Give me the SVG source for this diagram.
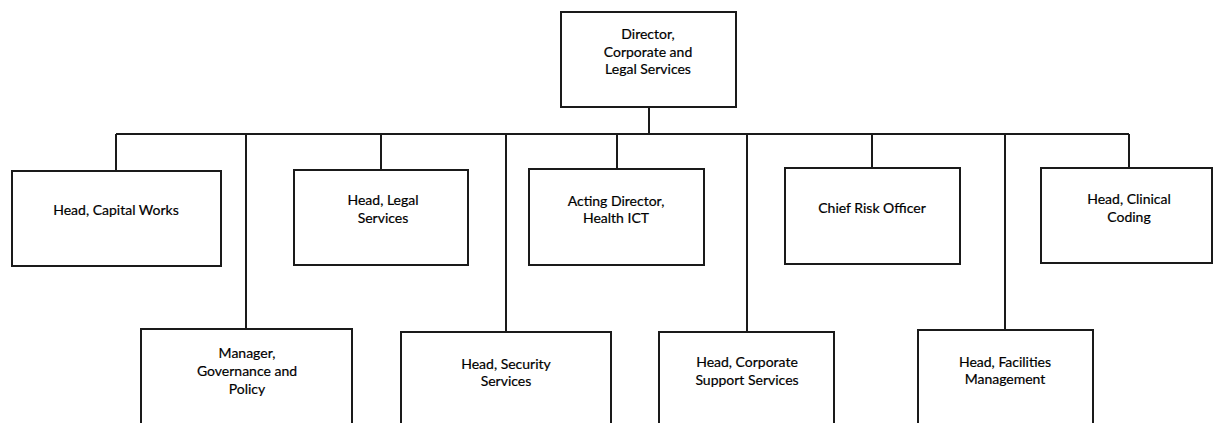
<svg xmlns="http://www.w3.org/2000/svg" width="1214" height="423" viewBox="0 0 1214 423">
  <style>
    .box { fill: #ffffff; stroke: #1a1a1a; stroke-width: 2; }
    .conn { fill: none; stroke: #1a1a1a; stroke-width: 2; }
    .lbl { font-family: Lato, "Liberation Sans", sans-serif; font-size: 14px; fill: #000000; stroke: #000000; stroke-width: 0.2; text-anchor: middle; }
  </style>
  <rect x="0" y="0" width="1214" height="423" fill="#ffffff"/>
  <g id="connectors">
    <path class="conn" d="M649 107 V134"/>
    <path class="conn" d="M116 134 H1129"/>
    <path class="conn" d="M116 134 V171"/>
    <path class="conn" d="M246 134 V329"/>
    <path class="conn" d="M381 134 V170"/>
    <path class="conn" d="M506 134 V332"/>
    <path class="conn" d="M617 134 V169"/>
    <path class="conn" d="M747 134 V332"/>
    <path class="conn" d="M872 134 V168"/>
    <path class="conn" d="M1005 134 V330"/>
    <path class="conn" d="M1129 134 V168"/>
  </g>
  <g id="director">
    <rect class="box" x="561" y="12" width="175" height="95"/>
    <text class="lbl" x="648" y="39">Director,</text>
    <text class="lbl" x="648" y="57">Corporate and</text>
    <text class="lbl" x="648" y="74">Legal Services</text>
  </g>
  <g id="capital-works">
    <rect class="box" x="12" y="171" width="209" height="95"/>
    <text class="lbl" x="116" y="215">Head, Capital Works</text>
  </g>
  <g id="legal-services">
    <rect class="box" x="294" y="170" width="174" height="95"/>
    <text class="lbl" x="383" y="205">Head, Legal</text>
    <text class="lbl" x="383" y="223">Services</text>
  </g>
  <g id="health-ict">
    <rect class="box" x="529" y="169" width="175" height="96"/>
    <text class="lbl" x="616" y="206">Acting Director,</text>
    <text class="lbl" x="616" y="223">Health ICT</text>
  </g>
  <g id="chief-risk">
    <rect class="box" x="785" y="168" width="175" height="96"/>
    <text class="lbl" x="872" y="213">Chief Risk Officer</text>
  </g>
  <g id="clinical-coding">
    <rect class="box" x="1041" y="168" width="171" height="95"/>
    <text class="lbl" x="1129" y="204">Head, Clinical</text>
    <text class="lbl" x="1129" y="222">Coding</text>
  </g>
  <g id="governance-policy">
    <rect class="box" x="141" y="329" width="211" height="110"/>
    <text class="lbl" x="247" y="358">Manager,</text>
    <text class="lbl" x="247" y="376">Governance and</text>
    <text class="lbl" x="247" y="394">Policy</text>
  </g>
  <g id="security-services">
    <rect class="box" x="401" y="332" width="210" height="110"/>
    <text class="lbl" x="506" y="369">Head, Security</text>
    <text class="lbl" x="506" y="386">Services</text>
  </g>
  <g id="corporate-support">
    <rect class="box" x="659" y="332" width="175" height="110"/>
    <text class="lbl" x="747" y="367">Head, Corporate</text>
    <text class="lbl" x="747" y="385">Support Services</text>
  </g>
  <g id="facilities-management">
    <rect class="box" x="918" y="330" width="175" height="110"/>
    <text class="lbl" x="1005" y="367">Head, Facilities</text>
    <text class="lbl" x="1005" y="384">Management</text>
  </g>
</svg>
